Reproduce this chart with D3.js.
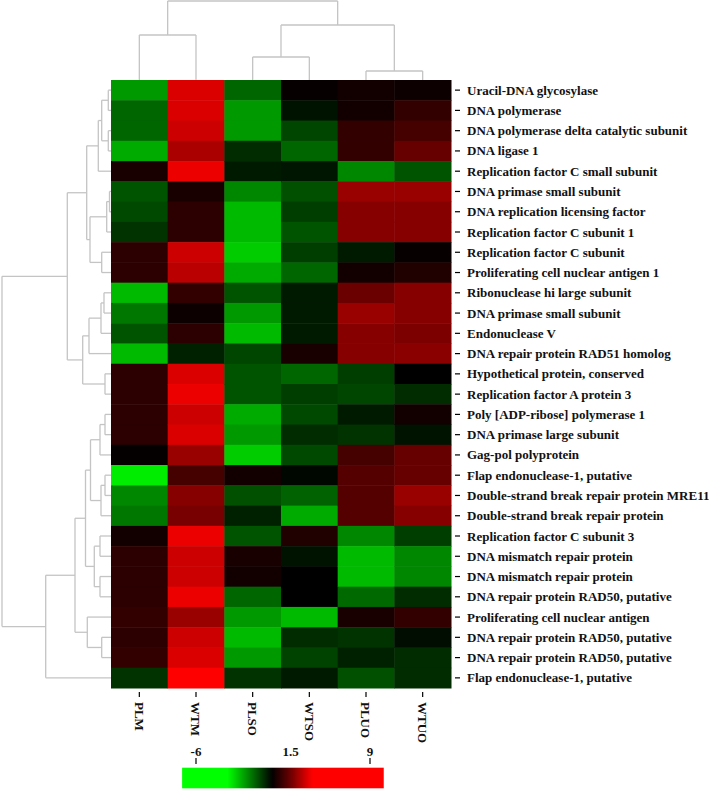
<!DOCTYPE html>
<html><head><meta charset="utf-8">
<script src="https://cdn.jsdelivr.net/npm/d3@7"></script>
<style>body{margin:0;background:#fff}svg{display:block}</style>
</head><body>
<svg id="chart" width="709" height="790"></svg>
<script>
// ---------------- data ----------------
const columns = ["PLM","WTM","PLSO","WTSO","PLUO","WTUO"];
const genes = [
  "Uracil-DNA glycosylase",
  "DNA polymerase",
  "DNA polymerase delta catalytic subunit",
  "DNA ligase 1",
  "Replication factor C small subunit",
  "DNA primase small subunit",
  "DNA replication licensing factor",
  "Replication factor C subunit 1",
  "Replication factor C subunit",
  "Proliferating cell nuclear antigen 1",
  "Ribonuclease hi large subunit",
  "DNA primase small subunit",
  "Endonuclease V",
  "DNA repair protein RAD51 homolog",
  "Hypothetical protein, conserved",
  "Replication factor A protein 3",
  "Poly [ADP-ribose] polymerase 1",
  "DNA primase large subunit",
  "Gag-pol polyprotein",
  "Flap endonuclease-1, putative",
  "Double-strand break repair protein MRE11",
  "Double-strand break repair protein",
  "Replication factor C subunit 3",
  "DNA mismatch repair protein",
  "DNA mismatch repair protein",
  "DNA repair protein RAD50, putative",
  "Proliferating cell nuclear antigen",
  "DNA repair protein RAD50, putative",
  "DNA repair protein RAD50, putative",
  "Flap endonuclease-1, putative"
];
const PLM  = [-2.1,-1.4,-1.4,-2.35,0.35,-1.15,-1.0,-0.7,0.6,0.6,-2.55,-1.65,-1.15,-2.55,0.6,0.6,0.6,0.6,0.05,-3.25,-1.85,-1.65,0.25,0.6,0.6,0.6,0.7,0.6,0.7,-0.7];
const WTM  = [3.0,3.0,2.8,2.35,3.25,0.35,0.6,0.6,2.8,2.55,0.7,0.18,0.6,-0.45,3.0,3.25,2.8,3.0,2.1,0.95,1.85,1.65,3.25,2.8,2.8,3.25,2.1,2.8,3.0,3.5];
const PLSO = [-1.4,-2.1,-2.1,-0.6,-0.35,-1.85,-2.55,-2.55,-2.8,-2.35,-1.15,-2.1,-2.55,-0.95,-1.15,-1.15,-2.35,-2.1,-2.8,0.25,-1.1,-0.45,-1.15,0.35,0.25,-1.4,-2.1,-2.55,-2.1,-0.7];
const WTSO = [0.1,-0.25,-0.95,-1.4,-0.3,-1.1,-0.85,-1.15,-0.85,-1.4,-0.35,-0.35,-0.35,0.35,-1.4,-0.85,-1.0,-0.6,-1.0,-0.1,-1.35,-2.35,0.45,-0.25,0.0,0.0,-2.55,-0.6,-0.9,-0.35];
const PLUO = [0.25,0.25,0.7,0.7,-1.85,2.1,1.85,1.85,-0.35,0.25,1.45,2.1,1.85,1.85,-0.85,-0.95,-0.35,-0.7,0.95,1.15,1.15,1.15,-1.85,-2.55,-2.55,-1.45,0.35,-0.7,-0.45,-1.1];
const WTUO = [0.18,0.7,0.95,1.4,-1.15,2.1,1.85,1.85,0.1,0.45,1.85,1.85,1.7,1.9,0.0,-0.6,0.25,-0.25,1.4,1.4,2.1,1.85,-0.85,-1.85,-1.85,-0.6,0.7,-0.18,-0.6,-0.6];
const seriesValues = [PLM, WTM, PLSO, WTSO, PLUO, WTUO];

const colorDomain = [-3.5, 0, 3.5];
const colorRange = ["#00ff00", "#000000", "#ff0000"];
const legendTicks = [-6, 1.5, 9];
const legendTickLabels = ["-6", "1.5", "9"];
const legendExtent = [-7.1, 10.3];

// dendrograms: [height, left, right]; leaves = index
const rowTree = [109,
  [43.7,
    [24.3,
      [12.7, [9.3, [2.7, 0, 1], [2.7, 2, 3]], 4],
      [21, [4.3, [1.5, 5, 6], 7], [9.3, 8, 9]]
    ],
    [28.3,
      [22, [10, [7, 10, 11], 12], 13],
      [6, 14, 15]
    ]
  ],
  [65.3,
    [36,
      [25.5,
        [20.5, [11, [6, 16, 17], 18], [10, [6, 19, 20], 21]],
        [16.7, [11, 22, 23], [11, 24, 25]]
      ],
      [23.7, 26, [9.3, 27, 28]]
    ],
    29
  ]
];
const colTree = [79, [45, 0, 1], [55, [23, 2, 3], [9, 4, 5]]];

// ---------------- layout ----------------
const svg = d3.select("#chart");
const FONT = "'Liberation Serif','Times New Roman',serif";
const hm = {x0: 111, x1: 451, y0: 80, y1: 688};

const xBand = d3.scaleBand().domain(d3.range(columns.length)).range([hm.x0, hm.x1]);
const yBand = d3.scaleBand().domain(d3.range(genes.length)).range([hm.y0, hm.y1]);
const color = d3.scaleLinear().domain(colorDomain).range(colorRange).clamp(true);

// cells
const cells = [];
seriesValues.forEach((vals, c) => vals.forEach((v, r) => cells.push({c, r, v})));
svg.append("g").selectAll("rect").data(cells).join("rect")
  .attr("x", d => xBand(d.c)).attr("y", d => yBand(d.r))
  .attr("width", xBand.bandwidth() + 0.5).attr("height", yBand.bandwidth() + 0.5)
  .attr("fill", d => color(d.v));

// dendrogram helper
function toHier(node) {
  if (typeof node === "number") return {leaf: node, h: 0};
  return {h: node[0], children: [toHier(node[1]), toHier(node[2])]};
}
function drawDendro(tree, leafPos, hScale, horizontal) {
  const root = d3.hierarchy(toHier(tree));
  root.eachAfter(n => {
    n.pos = n.children ? (n.children[0].pos + n.children[1].pos) / 2 : leafPos(n.data.leaf);
  });
  const g = svg.append("g").attr("fill", "none").attr("stroke", "#c4c4c4").attr("stroke-width", 1.3);
  const segs = [];
  root.each(n => {
    if (!n.children) return;
    const hp = hScale(n.data.h);
    const [a, b] = n.children;
    segs.push([a.pos, hp, b.pos, hp]);
    n.children.forEach(ch => segs.push([ch.pos, hp, ch.pos, hScale(ch.data.h)]));
  });
  g.selectAll("line").data(segs).join("line")
    .attr(horizontal ? "y1" : "x1", d => d[0]).attr(horizontal ? "x1" : "y1", d => d[1])
    .attr(horizontal ? "y2" : "x2", d => d[2]).attr(horizontal ? "x2" : "y2", d => d[3]);
}
// row dendrogram (left)
const rowH = d3.scaleLinear().domain([0, 109]).range([hm.x0, 2]);
drawDendro(rowTree, i => yBand(i) + yBand.bandwidth() / 2, rowH, true);
// column dendrogram (top)
const colH = d3.scaleLinear().domain([0, 79]).range([hm.y0, 1]);
drawDendro(colTree, i => xBand(i) + xBand.bandwidth() / 2, colH, false);

// row labels
const rl = svg.append("g").attr("font-family", FONT).attr("font-weight", "bold").attr("font-size", 13);
genes.forEach((gname, i) => {
  const cy = yBand(i) + yBand.bandwidth() / 2;
  rl.append("line").attr("x1", 455).attr("x2", 460).attr("y1", cy).attr("y2", cy)
    .attr("stroke", "#000").attr("stroke-width", 1.2);
  rl.append("text").attr("x", 467).attr("y", cy).attr("dy", "0.35em").attr("fill", "#111").text(gname);
});

// column labels
const cl = svg.append("g").attr("font-family", FONT).attr("font-weight", "bold").attr("font-size", 13);
columns.forEach((cname, i) => {
  const cx = xBand(i) + xBand.bandwidth() / 2;
  cl.append("line").attr("x1", cx).attr("x2", cx).attr("y1", 692).attr("y2", 697)
    .attr("stroke", "#000").attr("stroke-width", 1.2);
  cl.append("text").attr("transform", `translate(${cx},702) rotate(90)`)
    .attr("dy", "0.35em").attr("fill", "#111").text(cname);
});

// legend
const lx = d3.scaleLinear().domain(legendTicks).range([196, 290.7, 370]);
const defs = svg.append("defs");
const grad = defs.append("linearGradient").attr("id", "lg").attr("x1", "0%").attr("x2", "100%");
const nStops = 40;
d3.range(nStops + 1).forEach(k => {
  const v = legendExtent[0] + (legendExtent[1] - legendExtent[0]) * k / nStops;
  grad.append("stop").attr("offset", (k / nStops * 100) + "%").attr("stop-color", color(lx.invert ? v : v));
});
// gradient stops must follow pixel position; recompute by pixel
grad.selectAll("stop").remove();
const px0 = lx(legendExtent[0]), px1 = lx(legendExtent[1]);
d3.range(nStops + 1).forEach(k => {
  const px = px0 + (px1 - px0) * k / nStops;
  grad.append("stop").attr("offset", (k / nStops * 100) + "%").attr("stop-color", color(lx.invert(px)));
});
svg.append("rect").attr("x", px0).attr("y", 767.7).attr("width", px1 - px0).attr("height", 20.6)
  .attr("fill", "url(#lg)");
const lg = svg.append("g").attr("font-family", FONT).attr("font-weight", "bold").attr("font-size", 13);
legendTicks.forEach((t, i) => {
  lg.append("text").attr("x", lx(t)).attr("y", 756).attr("text-anchor", "middle").attr("fill", "#111")
    .text(legendTickLabels[i]);
  if (i !== 1) lg.append("line").attr("x1", lx(t)).attr("x2", lx(t)).attr("y1", 758).attr("y2", 764)
    .attr("stroke", "#000").attr("stroke-width", 1.2);
});
</script>
</body></html>
